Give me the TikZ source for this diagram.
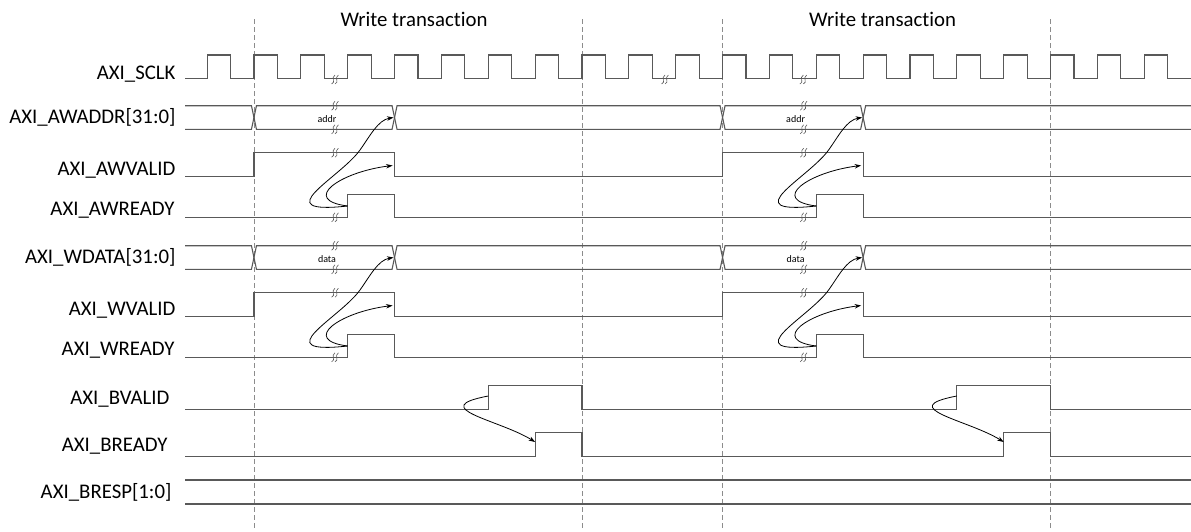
\documentclass[tikz,border=0pt]{standalone}
\usepackage{fontspec}
\setmainfont{Carlito}[Ligatures = {NoCommon, NoRare}]
\usetikzlibrary{arrows.meta}

\definecolor{wave}{RGB}{89,89,89}
\definecolor{guide}{RGB}{140,140,140}

% x position of the n-th clock edge (in px).
\newcommand{\edgex}[1]{(207.1 + (#1)*23.43)}

\tikzset{
    sig/.style = {anchor = base east, inner sep = 0pt, font = \fontsize{20.8}{24}\selectfont},
    tag/.style = {anchor = base, inner sep = 0pt, font = \fontsize{10}{12}\selectfont},
    hs/.style = {black, line width = 0.8pt, -{Stealth[length = 6.5pt, width = 4.5pt]}},
    brk/.pic = {
        \draw[wave, line width = 0.6pt] (-3.4, 4.5) .. controls (1.4, 2.5) and (-4.6, -1.5) .. (0.0, -4.5);
        \draw[wave, line width = 0.6pt] (0.0, 4.5) .. controls (4.8, 2.5) and (-1.2, -1.5) .. (3.4, -4.5);
    }
}

\begin{document}
\begin{tikzpicture}[x = 1pt, y = -1pt, every path/.style = {line width = 1.1pt}]

    \useasboundingbox (0, 0) rectangle (1191, 531);

    % Dashed guides round the two transactions.
    \foreach \n in {2, 16, 22, 36}
        \draw[guide, line width = 0.9pt, dash pattern = on 5pt off 3pt] ({\edgex{\n}}, 19) -- ({\edgex{\n}}, 528);

    % Titles.
    \node[sig, anchor = base] (titleA) at ({(\edgex{2} + \edgex{16})/2 - 4}, 26.5) {Write transaction};
    \node[sig, anchor = base] (titleB) at ({(\edgex{22} + \edgex{36})/2 - 4}, 26.5) {Write transaction};

    % Clock.
    \node[sig] (sclk) at (176, 79) {AXI\_SCLK};
    \draw[wave] (185, 78.3)
        foreach \n in {0, ..., 20} {
            -- ({\edgex{2*\n}}, 78.3) -- ({\edgex{2*\n}}, 55)
            -- ({\edgex{2*\n + 1}}, 55) -- ({\edgex{2*\n + 1}}, 78.3)
        } -- (1191, 78.3);
    \foreach \x in {335, 665, 803.3}
        \pic at (\x, 79.5) {brk};

    % Address and data channels: bus, valid and ready.
    \foreach \dy/\bus/\val/\rdy/\tag in {0/AWADDR/AWVALID/AWREADY/addr, 140/WDATA/WVALID/WREADY/data} {
        \begin{scope}[shift = {(0, \dy)}]
            \node[sig, anchor = east] (\bus) at (176, 117.5) {AXI\_\bus[31:0]};
            \node[sig] (\val) at (176, 175) {AXI\_\val};
            \node[sig] (\rdy) at (175, 215) {AXI\_\rdy};

            % Bus lines with their crossings.
            \draw[wave] (185, 105.7)
                foreach \s in {0, 468.6} {
                    -- ({\edgex{2} + \s - 2.5}, 105.7) -- ({\edgex{2} + \s + 2.5}, 129.3)
                    -- ({\edgex{8} + \s - 2.5}, 129.3) -- ({\edgex{8} + \s + 2.5}, 105.7)
                } -- (1191, 105.7);
            \draw[wave] (185, 129.3)
                foreach \s in {0, 468.6} {
                    -- ({\edgex{2} + \s - 2.5}, 129.3) -- ({\edgex{2} + \s + 2.5}, 105.7)
                    -- ({\edgex{8} + \s - 2.5}, 105.7) -- ({\edgex{8} + \s + 2.5}, 129.3)
                } -- (1191, 129.3);

            % Valid.
            \draw[wave] (185, 176.7)
                foreach \s in {0, 468.6} {
                    -- ({\edgex{2} + \s}, 176.7) -- ({\edgex{2} + \s}, 152.7)
                    -- ({\edgex{8} + \s}, 152.7) -- ({\edgex{8} + \s}, 176.7)
                } -- (1191, 176.7);

            % Ready.
            \draw[wave] (185, 217.3)
                foreach \s in {0, 468.6} {
                    -- ({\edgex{6} + \s}, 217.3) -- ({\edgex{6} + \s}, 194.7)
                    -- ({\edgex{8} + \s}, 194.7) -- ({\edgex{8} + \s}, 217.3)
                } -- (1191, 217.3);

            % Breaks, value tag and handshake arrows of each transaction.
            \foreach \s/\k in {0/a, 468.6/b} {
                \begin{scope}[shift = {(\s, 0)}]
                    \foreach \y in {105.7, 129.3, 152.7, 217.3}
                        \pic at (335, \y) {brk};
                    \node[tag] (\tag-\k) at (327, 122) {\tag};

                    \coordinate (\rdy-\k) at ({\edgex{6}}, 206);
                    \coordinate (\bus-\k) at ({\edgex{8} - 1}, 117.5);
                    \coordinate (\val-\k) at ({\edgex{8} - 2}, 165.5);
                    \draw[hs] (\rdy-\k) .. controls (265, 215) and (340, 178) .. (360, 150)
                        .. controls (370, 136) and (378, 120) .. (\bus-\k);
                    \draw[hs] (\rdy-\k) .. controls (300, 200) and (340, 172) .. (\val-\k);
                \end{scope}
            }
        \end{scope}
    }

    % Write response channel.
    \node[sig] (bvalid) at (170, 404) {AXI\_BVALID};
    \node[sig] (bready) at (168, 451.5) {AXI\_BREADY};
    \node[sig, anchor = east] (bresp) at (172, 492) {AXI\_BRESP[1:0]};

    \draw[wave] (185, 409.3)
        foreach \s in {0, 468.6} {
            -- ({\edgex{12} + \s}, 409.3) -- ({\edgex{12} + \s}, 385.7)
            -- ({\edgex{16} + \s}, 385.7) -- ({\edgex{16} + \s}, 409.3)
        } -- (1191, 409.3);
    \draw[wave] (185, 456.3)
        foreach \s in {0, 468.6} {
            -- ({\edgex{14} + \s}, 456.3) -- ({\edgex{14} + \s}, 432.7)
            -- ({\edgex{16} + \s}, 432.7) -- ({\edgex{16} + \s}, 456.3)
        } -- (1191, 456.3);
    \draw[wave] (185, 480) -- (1191, 480);
    \draw[wave] (185, 504) -- (1191, 504);

    \foreach \s/\k in {0/a, 468.6/b} {
        \coordinate (bv-\k) at ({\edgex{12} + \s}, 396);
        \coordinate (br-\k) at ({\edgex{14} + \s}, 442);
        \draw[hs] (bv-\k) .. controls ({425 + \s}, 408) and ({500 + \s}, 420) .. (br-\k);
    }
\end{tikzpicture}
\end{document}
